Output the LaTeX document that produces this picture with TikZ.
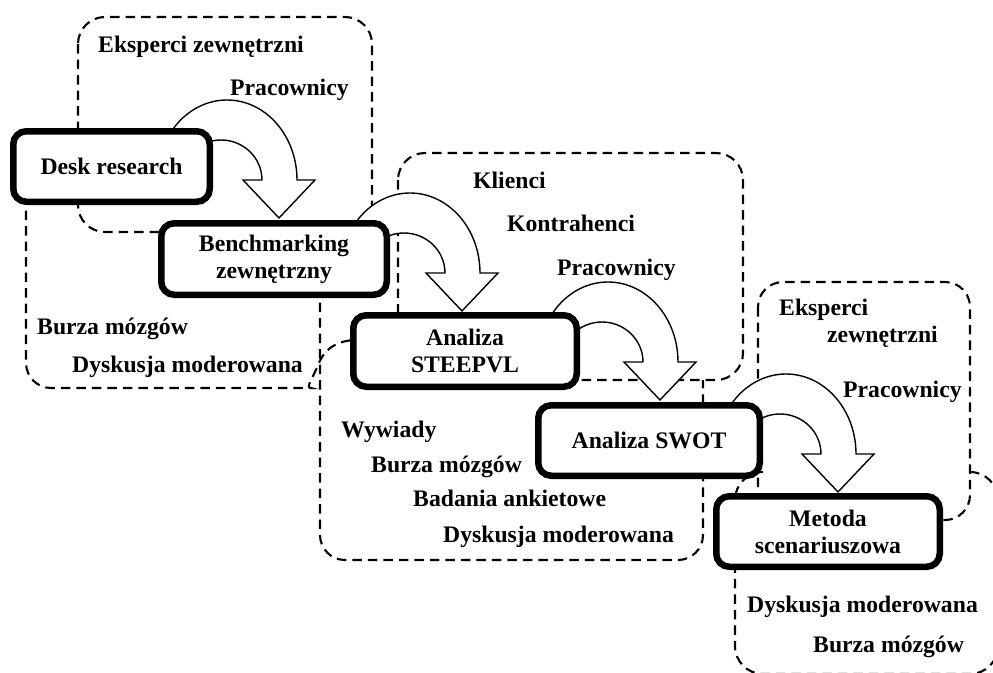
\documentclass[tikz,border=0pt]{standalone}
\usepackage{fontspec}
\setmainfont{Liberation Serif}
\usetikzlibrary{calc}
\pgfdeclarelayer{regions}
\pgfdeclarelayer{arrows}
\pgfsetlayers{regions,arrows,main}
\begin{document}
\begin{tikzpicture}[x=1pt,y=-1pt,
  lbl/.style={font=\fontsize{23.7}{27}\selectfont\bfseries, inner sep=0pt, anchor=base west},
  stage/.style={draw=black, fill=white, line width=6.5pt, rounded corners=13pt, inner sep=0pt,
    align=center, font=\fontsize{23.7}{27}\selectfont\bfseries},
  reg/.style={draw=black, line width=2.1pt, dash pattern=on 9.5pt off 6pt},
  arrowshape/.style={draw=black, fill=white, line width=1.4pt, line join=miter},
  bentarrow/.pic={
    \draw[arrowshape] (18,-38) -- (36,-38) -- (0,0) -- (-36,-38) -- (-17,-38)
      .. controls (-17,-60.1) and (-35.4,-78) .. (-58,-78)
      .. controls (-80.6,-78) and (-99,-60.1) .. (-99,-38)
      -- (-122,-38)
      .. controls (-122,-82.2) and (-90.7,-118) .. (-52,-118)
      .. controls (-13.3,-118) and (18,-82.2) .. (18,-38) -- cycle;
  }
]
\useasboundingbox (0,0) rectangle (993,672);

% process stages
\node[stage, minimum width=196.5pt, minimum height=70.5pt] (desk)   at (111.5,166.5) {Desk research};
\node[stage, minimum width=225.5pt, minimum height=71.5pt] (bench)  at (274,259)   {Benchmarking\\zewnętrzny};
\node[stage, minimum width=223.5pt, minimum height=71.5pt] (steep)  at (465,351)   {Analiza\\STEEPVL};
\node[stage, minimum width=221.5pt, minimum height=70.5pt] (swot)   at (649,440.5) {Analiza SWOT};
\node[stage, minimum width=223.5pt, minimum height=70.5pt] (metoda) at (828,531.5) {Metoda\\scenariuszowa};

% labels
\node[lbl] (ek1) at (98,52)   {Eksperci zewnętrzni};
\node[lbl] (pr1) at (230,95)  {Pracownicy};
\node[lbl] (bm1) at (37,334)  {Burza mózgów};
\node[lbl] (dm1) at (72,372)  {Dyskusja moderowana};
\node[lbl] (kl)  at (473,188) {Klienci};
\node[lbl] (ko)  at (507,231) {Kontrahenci};
\node[lbl] (pr2) at (557,275) {Pracownicy};
\node[lbl] (wy)  at (341,437) {Wywiady};
\node[lbl] (bm2) at (371,472) {Burza mózgów};
\node[lbl] (ba)  at (413,506) {Badania ankietowe};
\node[lbl] (dm2) at (443,542) {Dyskusja moderowana};
\node[lbl] (ek2) at (779,315) {Eksperci};
\node[lbl] (ze2) at (827,342) {zewnętrzni};
\node[lbl] (pr3) at (843,397) {Pracownicy};
\node[lbl] (dm3) at (747,612) {Dyskusja moderowana};
\node[lbl] (bm3) at (813,652) {Burza mózgów};

% dashed regions
\begin{pgfonlayer}{regions}
  \fill[white] (0,0) rectangle (993,672);
  \draw[reg, rounded corners=27pt] (78,17) rectangle (372,232);
  \draw[reg] (26,195) [rounded corners=25pt] -- (26,388) -- (286,388) [sharp corners]
     .. controls (305,388) and (313,378) .. (318,365)
     .. controls (324,350) and (334,342) .. (353,340);
  \draw[reg, rounded corners=25pt] (320,225) -- (320,560) -- (703,560) -- (703,380);
  \draw[reg, rounded corners=27pt] (398,153) rectangle (743,380);
  \draw[reg, rounded corners=25pt] (758,282) rectangle (970,520);
  \draw[reg, rounded corners=28pt] (970,472) -- (998,472) -- (998,674) -- (735,674) -- (735,472) -- (763,472);
\end{pgfonlayer}

% bent block arrows
\begin{pgfonlayer}{arrows}
  \pic at ($(bench.north)+(5,-2)$)   {bentarrow};
  \pic at ($(steep.north)+(-3,-1)$)  {bentarrow};
  \pic at ($(swot.north)+(11,-2)$)   {bentarrow};
  \pic at ($(metoda.north)+(10,-1)$) {bentarrow};
\end{pgfonlayer}
\end{tikzpicture}
\end{document}
